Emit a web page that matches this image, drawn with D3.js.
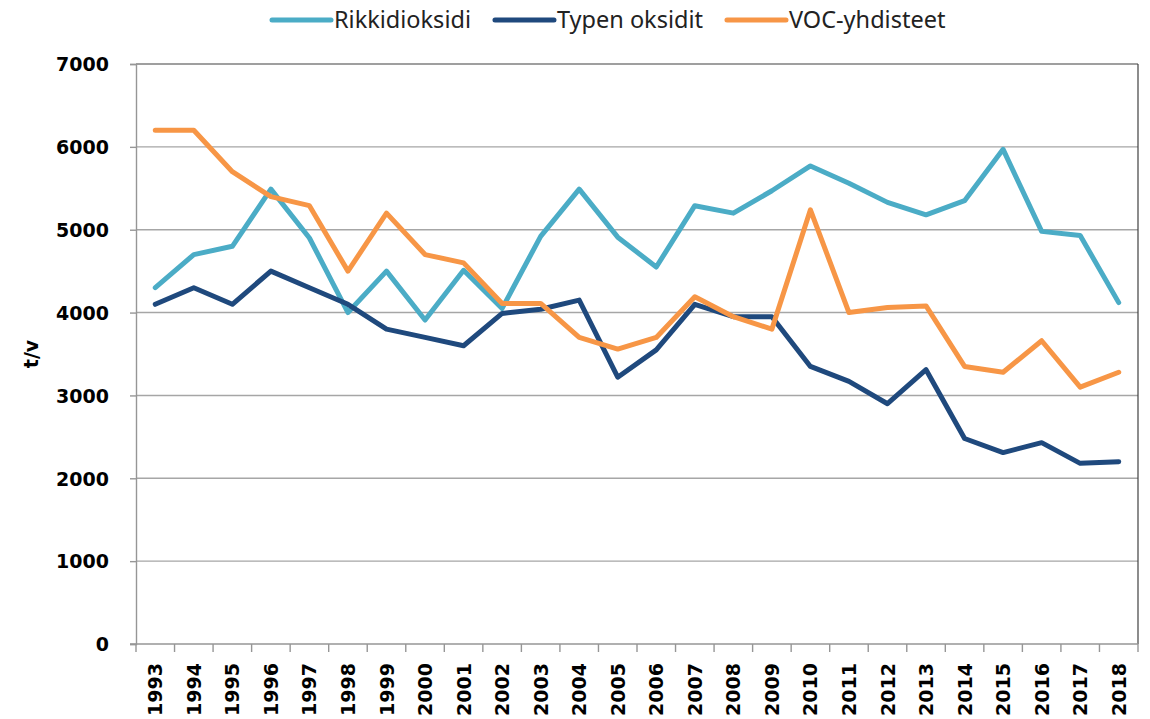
<!DOCTYPE html>
<html>
<head>
<meta charset="utf-8">
<script src="https://cdn.jsdelivr.net/npm/d3@7.9.0/dist/d3.min.js"></script>
<style>
  body { margin: 0; background: #fff; }
  svg { display: block; }
  .tick-label { font-family: "DejaVu Sans", Verdana, sans-serif; font-weight: bold; font-size: 19px; fill: #000; }
  .legend-label { font-family: "Noto Sans", sans-serif; font-size: 23.5px; fill: #222; }
</style>
</head>
<body>
<svg id="chart" width="1150" height="719"></svg>
<script>
// years on the x axis
const years = ['1993','1994','1995','1996','1997','1998','1999','2000','2001','2002','2003','2004','2005',
  '2006','2007','2008','2009','2010','2011','2012','2013','2014','2015','2016','2017','2018'];

// t/v per year
const rikkidioksidi = [4300, 4700, 4800, 5490, 4900, 4000, 4500, 3910, 4510, 4050, 4920, 5490, 4910,
  4550, 5290, 5200, 5470, 5770, 5560, 5330, 5180, 5350, 5970, 4980, 4930, 4120];
const typenOksidit = [4100, 4300, 4100, 4500, 4300, 4100, 3800, 3700, 3600, 3990, 4040, 4150, 3220,
  3550, 4100, 3950, 3950, 3350, 3170, 2900, 3310, 2480, 2310, 2430, 2180, 2200];
const vocYhdisteet = [6200, 6200, 5700, 5400, 5290, 4500, 5200, 4700, 4600, 4110, 4110, 3700, 3560,
  3700, 4190, 3950, 3800, 5240, 4000, 4060, 4080, 3350, 3280, 3660, 3100, 3280];

const yTicks = [0, 1000, 2000, 3000, 4000, 5000, 6000, 7000];

const series = [
  { name: 'Rikkidioksidi', values: rikkidioksidi, color: '#4bacc6' },
  { name: 'Typen oksidit', values: typenOksidit, color: '#1f497d' },
  { name: 'VOC-yhdisteet', values: vocYhdisteet, color: '#f79646' }
];

const plotLeft = 136, plotRight = 1138, plotTop = 64, plotBottom = 644;
const svg = d3.select('#chart');

let x = d3.scalePoint().domain(years).range([plotLeft, plotRight]).padding(0.5);
let xBand = d3.scaleBand().domain(years).range([plotLeft, plotRight]);
let y = d3.scaleLinear().domain([0, 7000]).range([plotBottom, plotTop]);

// gridlines
svg.append('g')
  .selectAll('line')
  .data(yTicks.filter(d => d > 0))
  .join('line')
  .attr('x1', plotLeft).attr('x2', plotRight)
  .attr('y1', d => y(d)).attr('y2', d => y(d))
  .attr('stroke', d => d === 7000 ? '#7f7f7f' : '#a6a6a6')
  .attr('stroke-width', 1.4);

// right border of plot area
svg.append('line')
  .attr('x1', plotRight).attr('x2', plotRight)
  .attr('y1', plotTop).attr('y2', plotBottom)
  .attr('stroke', '#404040').attr('stroke-width', 1.2);

// y axis
let yAxis = d3.axisLeft(y).tickValues(yTicks).tickSize(6).tickFormat(d => d);
let gy = svg.append('g').attr('transform', `translate(${plotLeft},0)`).call(yAxis);
gy.select('.domain').attr('stroke', '#969696').attr('stroke-width', 1.4);
gy.selectAll('.tick line').attr('stroke', '#969696').attr('stroke-width', 1.4);
gy.selectAll('.tick text')
  .attr('class', 'tick-label')
  .attr('x', -27)
  .attr('dy', '0.36em');

// x axis: ticks sit between the categories
let gx = svg.append('g').attr('transform', `translate(0,${plotBottom})`);
gx.append('line')
  .attr('x1', plotLeft - 6).attr('x2', plotRight)
  .attr('stroke', '#969696').attr('stroke-width', 1.4);
let bounds = years.map(d => xBand(d)).concat([plotRight]);
gx.selectAll('.xt')
  .data(bounds)
  .join('line')
  .attr('class', 'xt')
  .attr('x1', d => d).attr('x2', d => d)
  .attr('y1', 0).attr('y2', 8)
  .attr('stroke', '#969696').attr('stroke-width', 1.4);
gx.selectAll('.xl')
  .data(years)
  .join('text')
  .attr('class', 'tick-label xl')
  .attr('text-anchor', 'end')
  .attr('transform', d => `translate(${x(d) + 7},${663 - plotBottom}) rotate(-90)`)
  .text(d => d);

// y axis title
svg.append('text')
  .attr('class', 'tick-label')
  .attr('text-anchor', 'middle')
  .attr('transform', `translate(38,${(plotTop + plotBottom) / 2}) rotate(-90)`)
  .text('t/v');

// lines
let line = d3.line()
  .x((d, i) => x(years[i]))
  .y(d => y(d));

series.forEach(s => {
  svg.append('path')
    .datum(s.values)
    .attr('d', line)
    .attr('fill', 'none')
    .attr('stroke', s.color)
    .attr('stroke-width', 5)
    .attr('stroke-linejoin', 'round')
    .attr('stroke-linecap', 'round');
});

// legend
let legend = svg.append('g');
let lx = 272;
series.forEach(s => {
  legend.append('line')
    .attr('x1', lx).attr('x2', lx + 59)
    .attr('y1', 20).attr('y2', 20)
    .attr('stroke', s.color)
    .attr('stroke-width', 5)
    .attr('stroke-linecap', 'round');
  let t = legend.append('text')
    .attr('class', 'legend-label')
    .attr('x', lx + 62)
    .attr('y', 28)
    .text(s.name);
  lx += 62 + t.node().getComputedTextLength() + 24;
});
</script>
</body>
</html>
